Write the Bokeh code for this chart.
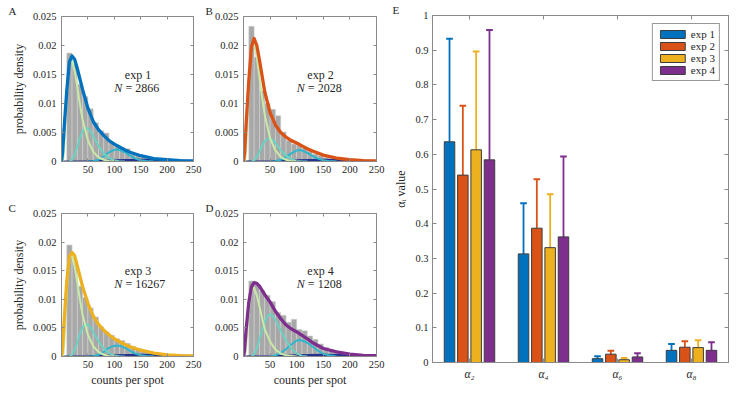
from bokeh.plotting import figure
from bokeh.models import Range1d, LinearAxis, FixedTicker, Label, Legend, LegendItem, NumeralTickFormatter
from bokeh.layouts import row, column
from bokeh.embed import file_html
from bokeh.resources import INLINE

SERIF = "Liberation Serif"
AXC = "#8a8a8a"
TXT = "#262626"

# ---------------- histogram panels data ----------------
HIST_EDGES = [10, 20, 30, 40, 50, 60, 70, 80, 90, 100, 110, 120, 130, 140, 150,
              160, 170, 180, 190, 200, 210, 220, 230, 240, 250]
A_HIST = [0.0187, 0.0168, 0.0133, 0.0112, 0.0091, 0.0067, 0.0053, 0.0049, 0.0033, 0.0028, 0.0024, 0.0022,
          0.0015, 0.0011, 0.0008, 0.0006, 0.0005, 0.0004, 0.0003, 0.0002, 0.00015, 0.0001, 0.0001, 0.00005]
B_HIST = [0.0233, 0.0180, 0.0122, 0.0100, 0.0090, 0.0079, 0.0051, 0.0036, 0.0030, 0.0028, 0.0023, 0.0018,
          0.0013, 0.0010, 0.0007, 0.0005, 0.0004, 0.0003, 0.0002, 0.0002, 0.0001, 0.0001, 0.0001, 0.00005]
C_HIST = [0.0195, 0.0165, 0.0123, 0.0103, 0.0085, 0.0069, 0.0052, 0.0043, 0.0037, 0.0031, 0.0028, 0.0023,
          0.0018, 0.0014, 0.0010, 0.0008, 0.0006, 0.0004, 0.0003, 0.0002, 0.0002, 0.0001, 0.0001, 0.0001]
D_HIST = [0.0132, 0.0126, 0.0115, 0.0107, 0.0096, 0.0077, 0.0072, 0.0060, 0.0065, 0.0047, 0.0045, 0.0036,
          0.0030, 0.0022, 0.0016, 0.0012, 0.0009, 0.0007, 0.0005, 0.0004, 0.0003, 0.0002, 0.0002, 0.0001]

X_TOTAL = [0, 2, 5, 10, 15, 20, 25, 30, 40, 50, 60, 70, 80, 90, 100, 110, 120, 130, 150, 175, 200, 225, 250]
A_TOTAL = [0, 0.0015, 0.0058, 0.0122, 0.0172, 0.0182, 0.0176, 0.0160, 0.0124, 0.0092, 0.0069, 0.0055,
           0.0045, 0.0036, 0.0030, 0.0025, 0.0020, 0.0016, 0.0010, 0.0005, 0.0003, 0.00015, 0.0001]
B_TOTAL = [0, 0.0015, 0.0065, 0.0140, 0.0198, 0.0212, 0.0200, 0.0175, 0.0120, 0.0084, 0.0063, 0.0050,
           0.0042, 0.0036, 0.0032, 0.0027, 0.0022, 0.0018, 0.0011, 0.0006, 0.0003, 0.00015, 0.0001]
C_TOTAL = [0, 0.0015, 0.0062, 0.0132, 0.0175, 0.0182, 0.0176, 0.0158, 0.0122, 0.0093, 0.0071, 0.0056,
           0.0046, 0.0038, 0.0031, 0.0026, 0.0021, 0.0017, 0.0011, 0.0006, 0.0003, 0.00015, 0.0001]
D_TOTAL = [0, 0.0012, 0.0048, 0.0095, 0.0122, 0.0129, 0.0128, 0.0123, 0.0108, 0.0095, 0.0079, 0.0066,
           0.0055, 0.0048, 0.0043, 0.0037, 0.0031, 0.0024, 0.0014, 0.0008, 0.0004, 0.0002, 0.00015]

X_C1 = [3, 5, 8, 10, 12, 15, 18, 20, 25, 30, 35, 40, 50, 60, 70, 80, 90, 100]
A_C1 = [0, 0.002, 0.008, 0.011, 0.014, 0.0168, 0.0175, 0.0174, 0.0155, 0.0128, 0.0098, 0.0072,
        0.0037, 0.0017, 0.0007, 0.0003, 0.0001, 0]
B_C1 = [0, 0.002, 0.009, 0.013, 0.016, 0.0195, 0.0205, 0.0203, 0.0180, 0.0145, 0.0110, 0.0080,
        0.0040, 0.0019, 0.0008, 0.0003, 0.0001, 0]
C_C1 = [0, 0.002, 0.008, 0.011, 0.014, 0.0170, 0.0177, 0.0176, 0.0157, 0.0129, 0.0099, 0.0072,
        0.0038, 0.0018, 0.0008, 0.0003, 0.0001, 0]
D_C1 = [0, 0.0015, 0.006, 0.008, 0.0098, 0.0113, 0.0120, 0.0120, 0.0107, 0.0088, 0.0067, 0.0048,
        0.0026, 0.0012, 0.0005, 0.0002, 0.0001, 0]

X_C2 = [15, 20, 25, 30, 35, 40, 45, 50, 55, 60, 70, 80, 90, 100, 110, 120]
A_C2 = [0, 0.0003, 0.0012, 0.0026, 0.0041, 0.0052, 0.0058, 0.0057, 0.0052, 0.0044, 0.0027, 0.0014,
        0.0006, 0.0002, 0, 0]
B_C2 = [0, 0.0002, 0.0008, 0.0017, 0.0027, 0.0035, 0.0039, 0.0040, 0.0037, 0.0032, 0.0020, 0.0010,
        0.0004, 0.0001, 0, 0]
C_C2 = [0, 0.0003, 0.0011, 0.0025, 0.0040, 0.0051, 0.0056, 0.0056, 0.0051, 0.0043, 0.0027, 0.0014,
        0.0006, 0.0002, 0, 0]
D_C2 = [0, 0.0004, 0.0014, 0.0030, 0.0046, 0.0060, 0.0071, 0.0074, 0.0071, 0.0064, 0.0046, 0.0028,
        0.0014, 0.0005, 0.0001, 0]

X_C3 = [50, 60, 70, 80, 90, 100, 105, 110, 120, 130, 140, 150, 160, 175]
A_C3 = [0, 0.00005, 0.0003, 0.0009, 0.0016, 0.0020, 0.0021, 0.0020, 0.0016, 0.0010, 0.0005, 0.0002, 0.0001, 0]
B_C3 = [0, 0.00005, 0.0003, 0.0008, 0.0014, 0.0019, 0.0020, 0.0019, 0.0015, 0.0009, 0.0005, 0.0002, 0.0001, 0]
C_C3 = [0, 0.00005, 0.0003, 0.0008, 0.0015, 0.0019, 0.0019, 0.0019, 0.0015, 0.0010, 0.0005, 0.0002, 0.0001, 0]
D_C3 = [0, 0.0002, 0.0006, 0.0013, 0.0021, 0.0028, 0.0029, 0.0028, 0.0024, 0.0017, 0.0010, 0.0005, 0.0002, 0]

X_C4 = [0, 50, 100, 150, 200, 250]
A_C4 = [0, 0.00005, 0.0002, 0.0003, 0.0002, 0.0001]
B_C4 = [0, 0.00005, 0.0002, 0.0003, 0.0002, 0.0001]
C_C4 = [0, 0.00005, 0.0002, 0.0003, 0.0002, 0.0001]
D_C4 = [0, 0.00005, 0.0002, 0.0003, 0.0002, 0.0001]

PANEL_LETTERS = ["A", "B", "C", "D", "E"]
EXP_LABELS = ["exp 1", "exp 2", "exp 3", "exp 4"]
N_VALUES = ["2866", "2028", "16267", "1208"]
EXP_COLORS = ["#0072BD", "#D95319", "#EDB120", "#7E2F8E"]
COMP_COLORS = ["#c9e9a6", "#69d2c2", "#2eb6cc", "#243391"]

HIST_XTICKS = [50, 100, 150, 200, 250]
HIST_YTICKS = [0, 0.005, 0.01, 0.015, 0.02, 0.025]

# ---------------- panel E data ----------------
GROUP_POS = [1, 2, 3, 4]
GROUP_LABELS = ["α₂", "α₄", "α₆", "α₈"]
EXP1_MEAN = [0.636, 0.313, 0.011, 0.035]
EXP1_UPPER = [0.933, 0.459, 0.018, 0.053]
EXP2_MEAN = [0.540, 0.387, 0.024, 0.044]
EXP2_UPPER = [0.740, 0.528, 0.034, 0.061]
EXP3_MEAN = [0.613, 0.331, 0.008, 0.043]
EXP3_UPPER = [0.896, 0.485, 0.013, 0.064]
EXP4_MEAN = [0.584, 0.362, 0.016, 0.035]
EXP4_UPPER = [0.958, 0.594, 0.027, 0.058]
E_YTICKS = [0, 0.1, 0.2, 0.3, 0.4, 0.5, 0.6, 0.7, 0.8, 0.9, 1.0]

TICK_SIZE = "10.5px"
LABEL_SIZE = "12px"


def style_axis(ax, size=TICK_SIZE):
    ax.axis_line_color = AXC
    ax.major_tick_line_color = AXC
    ax.major_tick_in = 3
    ax.major_tick_out = 0
    ax.minor_tick_line_color = None
    ax.major_label_text_font = SERIF
    ax.major_label_text_font_size = size
    ax.major_label_text_color = TXT
    ax.axis_label_text_font = SERIF
    ax.axis_label_text_font_style = "normal"
    ax.axis_label_text_color = TXT


def blank_axis(ticks, size_in=3):
    ax = LinearAxis(ticker=FixedTicker(ticks=ticks))
    style_axis(ax)
    ax.major_tick_in = size_in
    ax.major_label_text_font_size = "0px"
    ax.major_label_text_color = None
    ax.major_label_standoff = 0
    return ax


def letter_title(p, letter, offset):
    p.title.text = letter
    p.title.align = "left"
    p.title.offset = offset
    p.title.standoff = 0
    p.title.text_font = SERIF
    p.title.text_font_size = "11px"
    p.title.text_font_style = "normal"
    p.title.text_color = TXT


def hist_panel(i, hist, total, c1, c2, c3, c4, width, height, bl, br, bt, bb, ylabel, xlabel, title_offset):
    p = figure(width=width, height=height, x_range=Range1d(0, 250), y_range=Range1d(0, 0.025),
               output_backend="svg", toolbar_location=None,
               min_border_left=bl, min_border_right=br, min_border_top=bt, min_border_bottom=bb)
    p.xgrid.visible = False
    p.ygrid.visible = False
    p.outline_line_color = AXC
    p.background_fill_color = "white"
    p.border_fill_color = "white"
    letter_title(p, PANEL_LETTERS[i], title_offset)

    p.quad(left=HIST_EDGES[:-1], right=HIST_EDGES[1:], top=hist, bottom=0,
           fill_color="#a8a8a8", line_color="#d2d2d2", line_width=0.6)
    p.line(X_C4, c4, line_color=COMP_COLORS[3], line_width=2)
    p.line(X_C3, c3, line_color=COMP_COLORS[2], line_width=2)
    p.line(X_C2, c2, line_color=COMP_COLORS[1], line_width=2)
    p.line(X_C1, c1, line_color=COMP_COLORS[0], line_width=2)
    p.line(X_TOTAL, total, line_color=EXP_COLORS[i], line_width=3.3, line_join="round")

    p.xaxis.ticker = FixedTicker(ticks=HIST_XTICKS)
    p.yaxis.ticker = FixedTicker(ticks=HIST_YTICKS)
    p.yaxis.formatter = NumeralTickFormatter(format="0.[000]")
    style_axis(p.xaxis[0])
    style_axis(p.yaxis[0])
    p.xaxis.major_label_standoff = 4
    p.yaxis.major_label_standoff = 5
    if ylabel:
        p.yaxis.axis_label = "probability density"
        p.yaxis.axis_label_text_font_size = LABEL_SIZE
        p.yaxis.axis_label_standoff = 4
    if xlabel:
        p.xaxis.axis_label = "counts per spot"
        p.xaxis.axis_label_text_font_size = LABEL_SIZE
        p.xaxis.axis_label_standoff = 2
    p.add_layout(blank_axis(HIST_XTICKS), "above")
    p.add_layout(blank_axis(HIST_YTICKS), "right")

    p.add_layout(Label(x=120, y=0.0150, text=EXP_LABELS[i], text_font=SERIF, text_font_size=LABEL_SIZE,
                       text_color=TXT, text_baseline="middle"))
    p.add_layout(Label(x=100, y=0.0127, text="N", text_font=SERIF, text_font_size=LABEL_SIZE,
                       text_font_style="italic", text_color=TXT, text_baseline="middle"))
    p.add_layout(Label(x=121, y=0.0127, text="= " + N_VALUES[i], text_font=SERIF, text_font_size=LABEL_SIZE,
                       text_color=TXT, text_baseline="middle"))
    return p


pA = hist_panel(0, A_HIST, A_TOTAL, A_C1, A_C2, A_C3, A_C4, 205, 185, 61, 12, 16, 24, True, False, -53)
pB = hist_panel(1, B_HIST, B_TOTAL, B_C1, B_C2, B_C3, B_C4, 183, 185, 38, 12, 16, 24, False, False, -38)
pC = hist_panel(2, C_HIST, C_TOTAL, C_C1, C_C2, C_C3, C_C4, 205, 204, 61, 12, 28, 31, True, True, -53)
pD = hist_panel(3, D_HIST, D_TOTAL, D_C1, D_C2, D_C3, D_C4, 183, 204, 38, 12, 28, 31, False, True, -38)

# ---------------- panel E ----------------
pE = figure(width=343, height=389, x_range=Range1d(0.5, 4.5), y_range=Range1d(0, 1),
            output_backend="svg", toolbar_location=None,
            min_border_left=44, min_border_right=3, min_border_top=15, min_border_bottom=27)
pE.xgrid.visible = False
pE.ygrid.visible = False
pE.outline_line_color = AXC
pE.background_fill_color = "white"
pE.border_fill_color = "white"
letter_title(pE, PANEL_LETTERS[4], -40)

OFFSETS = [-0.27, -0.09, 0.09, 0.27]
means = [EXP1_MEAN, EXP2_MEAN, EXP3_MEAN, EXP4_MEAN]
uppers = [EXP1_UPPER, EXP2_UPPER, EXP3_UPPER, EXP4_UPPER]
items = []
for k in range(4):
    xs = [g + OFFSETS[k] for g in GROUP_POS]
    pE.segment(x0=xs, y0=means[k], x1=xs, y1=uppers[k], line_color=EXP_COLORS[k], line_width=1.8)
    pE.segment(x0=[x - 0.045 for x in xs], y0=uppers[k], x1=[x + 0.045 for x in xs], y1=uppers[k],
               line_color=EXP_COLORS[k], line_width=2)
    r = pE.vbar(x=xs, top=means[k], width=0.142, bottom=0, fill_color=EXP_COLORS[k],
                line_color="#3c3c3c", line_width=1)
    items.append(LegendItem(label=EXP_LABELS[k], renderers=[r]))

legend = Legend(items=items, location="top_right", margin=8, padding=4, spacing=0,
                label_text_font=SERIF, label_text_font_size="11px", label_text_color=TXT,
                label_height=12, glyph_height=10, glyph_width=31, label_standoff=3,
                border_line_color="#303030", border_line_width=0.8, background_fill_alpha=1)
pE.add_layout(legend)

pE.xaxis.ticker = FixedTicker(ticks=GROUP_POS)
pE.xaxis.major_label_overrides = {g: lab for g, lab in zip(GROUP_POS, GROUP_LABELS)}
pE.yaxis.ticker = FixedTicker(ticks=E_YTICKS)
pE.yaxis.formatter = NumeralTickFormatter(format="0.[0]")
style_axis(pE.xaxis[0], "11.5px")
style_axis(pE.yaxis[0], TICK_SIZE)
pE.xaxis.major_tick_in = 4
pE.yaxis.major_tick_in = 4
pE.xaxis.major_label_text_font_style = "italic"
pE.xaxis.major_label_standoff = 5
pE.yaxis.major_label_standoff = 4
pE.yaxis.axis_label = "αᵢ value"
pE.yaxis.axis_label_text_font_size = LABEL_SIZE
pE.yaxis.axis_label_standoff = 4
pE.add_layout(blank_axis(GROUP_POS, 4), "above")
pE.add_layout(blank_axis(E_YTICKS, 4), "right")

layout = row(column(row(pA, pB), row(pC, pD)), pE)
open("out.html", "w").write(file_html(layout, INLINE))
